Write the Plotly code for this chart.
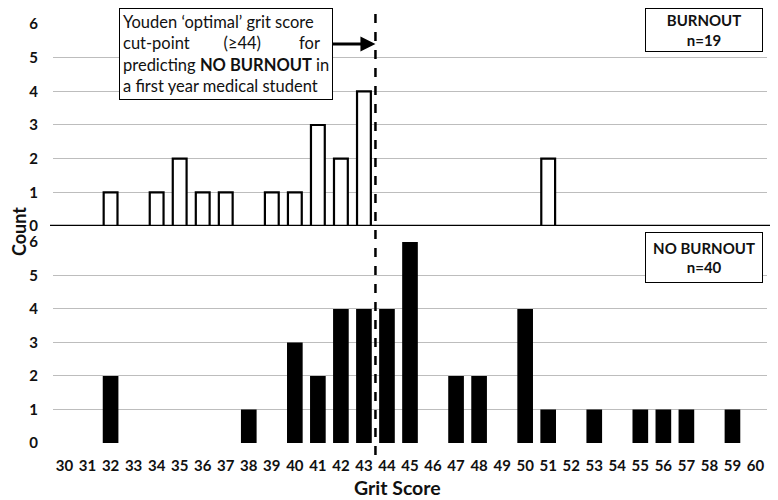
import plotly.graph_objects as go
from plotly.subplots import make_subplots

# grit scores on the x axis
scores = list(range(30, 61))

# counts per grit score
burnout_scores = [32, 34, 35, 36, 37, 39, 40, 41, 42, 43, 51]
burnout_counts = [1, 1, 2, 1, 1, 1, 1, 3, 2, 4, 2]

no_burnout_scores = [32, 38, 40, 41, 42, 43, 44, 45, 47, 48, 50, 51, 53, 55, 56, 57, 59]
no_burnout_counts = [2, 1, 3, 2, 4, 4, 4, 6, 2, 2, 4, 1, 1, 1, 1, 1, 1]

cut_point = 43.5
count_ticks = [0, 1, 2, 3, 4, 5, 6]

FONT = "Lato"
INK = "#111111"

fig = make_subplots(rows=2, cols=1, shared_xaxes=True)

fig.add_trace(
    go.Bar(
        x=burnout_scores,
        y=burnout_counts,
        marker=dict(color="white", line=dict(color="black", width=2.2)),
        width=0.6,
    ),
    row=1, col=1,
)
fig.add_trace(
    go.Bar(
        x=no_burnout_scores,
        y=no_burnout_counts,
        marker=dict(color="black", line=dict(color="black", width=0)),
        width=0.68,
    ),
    row=2, col=1,
)

tickfont = dict(family=FONT, size=15, color=INK, weight="bold")

fig.update_xaxes(
    range=[29.5, 60.5],
    tickmode="array",
    tickvals=scores,
    ticktext=[str(s) for s in scores],
    showgrid=False,
    zeroline=False,
    showline=False,
    tickfont=tickfont,
    ticklabelstandoff=12,
    automargin=False,
)
fig.update_xaxes(showticklabels=False, row=1, col=1)

fig.update_yaxes(
    range=[0, 6],
    tickvals=count_ticks,
    showgrid=True,
    gridcolor="#bdbdbd",
    gridwidth=1,
    zeroline=False,
    showline=False,
    tickfont=tickfont,
    ticklabelstandoff=14,
    automargin=False,
)

# page body adds an 8px offset, so the figure is a bit smaller than the window
fig.update_layout(
    width=770,
    height=492,
    showlegend=False,
    plot_bgcolor="white",
    paper_bgcolor="white",
    margin=dict(l=45, r=11, t=0, b=57),
    yaxis=dict(domain=[0.4989, 0.9632]),
    yaxis2=dict(domain=[0.0, 0.4621]),
    font=dict(family=FONT, color=INK),
)

# thick axis line under the burnout panel
fig.add_shape(
    type="line", xref="paper", yref="y", x0=-0.0042, x1=1.02, y0=0, y1=0,
    line=dict(color="black", width=2.5),
)
# dashed cut-point line
fig.add_shape(
    type="line", xref="x", yref="paper", x0=cut_point, x1=cut_point, y0=-0.0276, y1=1.0,
    line=dict(color="black", width=2.5, dash="dash"),
)

gap = "&nbsp;" * 8
box_text = (
    "Youden ‘optimal’ grit score<br>"
    f"cut-point{gap}(≥44){gap}&nbsp;for<br>"
    "predicting <b>NO BURNOUT</b> in<br>"
    "a first year medical student"
)
fig.add_annotation(
    text=box_text, xref="paper", yref="paper", x=0.0924, y=1.0,
    xanchor="left", yanchor="top", align="left", showarrow=False,
    font=dict(family=FONT, size=16.5, color=INK),
    bordercolor="black", borderwidth=1, borderpad=3, bgcolor="white",
)
fig.add_annotation(
    text="", x=cut_point, xref="x", y=0.9172, yref="paper",
    showarrow=True, arrowhead=2, arrowsize=1, arrowwidth=3, arrowcolor="black",
    ax=-44, ay=0,
)

fig.add_annotation(
    text="<b>BURNOUT</b><br><b>n=19</b>", xref="paper", yref="paper",
    x=0.912, y=1.0, xanchor="center", yanchor="top", showarrow=False,
    font=dict(family=FONT, size=15, color=INK),
    bordercolor="black", borderwidth=1, borderpad=1, bgcolor="white",
    width=114, height=40,
)
fig.add_annotation(
    text="<b>NO BURNOUT</b><br><b>n=40</b>", xref="paper", yref="paper",
    x=0.912, y=0.485, xanchor="center", yanchor="top", showarrow=False,
    font=dict(family=FONT, size=15, color=INK),
    bordercolor="black", borderwidth=1, borderpad=1, bgcolor="white",
    width=114, height=47,
)

fig.add_annotation(
    text="<b>Count</b>", xref="paper", yref="paper", x=-0.0476, y=0.485,
    xanchor="center", yanchor="middle",
    textangle=-90, showarrow=False, font=dict(family=FONT, size=18, color=INK),
)
fig.add_annotation(
    text="<b>Grit Score</b>", xref="paper", yref="paper", x=0.483, y=-0.1034,
    xanchor="center", yanchor="middle",
    showarrow=False, font=dict(family=FONT, size=19.5, color=INK),
)

fig.write_html("out.html")
